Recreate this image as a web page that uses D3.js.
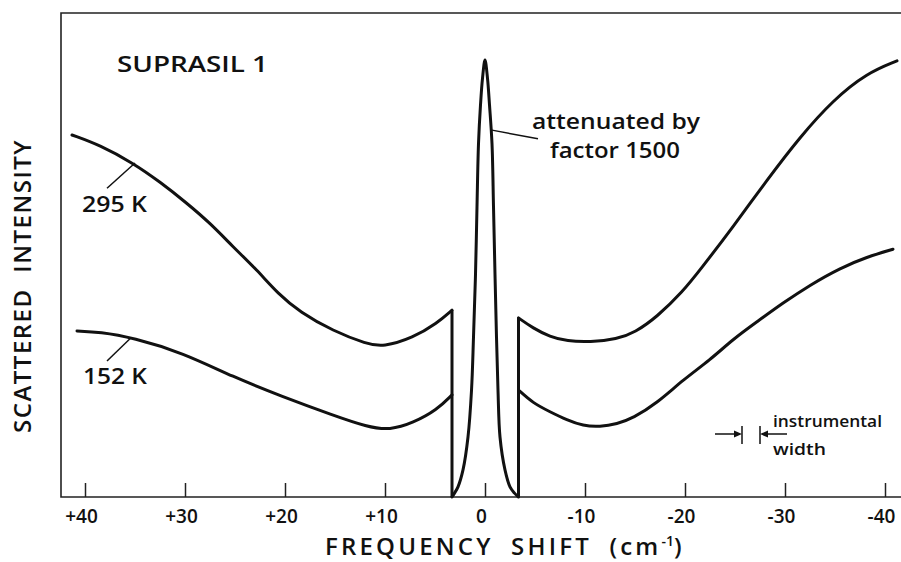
<!DOCTYPE html>
<html>
<head>
<meta charset="utf-8">
<script src="https://cdn.jsdelivr.net/npm/d3@7"></script>
<style>
  body { margin: 0; background: #fff; }
  svg { display: block; }
  text { font-family: "Open Sans", "DejaVu Sans", sans-serif; font-weight: 600; fill: #111; }
</style>
</head>
<body>
<div id="chart"></div>
<script>
// frequency shift (cm-1) ticks, reversed axis: Stokes side on the left
var shiftTicks = [40, 30, 20, 10, 0, -10, -20, -30, -40];
var tickLabels = ['+40', '+30', '+20', '+10', '0', '-10', '-20', '-30', '-40'];

// [shift, intensity] (arbitrary units)
var warmLeft = [[41.3, 74.8], [38.5, 72.7], [35.2, 69.0], [32.5, 65.1], [29.8, 60.7], [27.5, 56.6],
    [25.2, 51.7], [22.8, 46.9], [20.7, 42.0], [18.5, 38.2], [15.2, 34.3], [11.8, 31.6], [10.2, 31.0],
    [7.2, 32.9], [4.8, 35.9], [3.3, 38.6]];
var warmRight = [[-3.35, 37.0], [-4.8, 34.9], [-6.5, 33.1], [-8.2, 32.2], [-10.5, 32.0], [-13.2, 32.6],
    [-15.0, 34.0], [-17.2, 37.2], [-19.8, 42.5], [-21.5, 46.9], [-24.8, 55.8], [-28.2, 65.5],
    [-31.5, 74.4], [-34.8, 82.0], [-38.2, 87.6], [-41.2, 90.1]];
var coldLeft = [[40.8, 34.3], [38.5, 34.1], [35.2, 32.9], [30.2, 29.8], [25.2, 24.8], [20.2, 20.7],
    [15.2, 16.9], [11.8, 14.5], [9.5, 13.8], [7.2, 15.3], [4.8, 18.0], [3.3, 21.1]];
var coldRight = [[-3.35, 22.1], [-4.8, 19.4], [-6.5, 17.6], [-8.2, 15.9], [-9.8, 14.7], [-11.5, 14.5],
    [-13.2, 15.1], [-14.8, 16.3], [-17.2, 19.4], [-19.8, 24.2], [-22.5, 28.3], [-24.8, 32.6],
    [-27.2, 36.2], [-29.8, 40.1], [-32.5, 43.8], [-35.5, 47.3], [-38.2, 49.6], [-40.8, 51.2]];
// elastic line, attenuated by 1500
var peak = [[3.3, 0], [3.05, 0.8], [2.7, 2.1], [2.2, 5.6], [1.7, 12.4], [1.35, 22], [1.15, 33],
    [0.95, 46], [0.8, 60], [0.65, 73], [0.45, 81], [0.25, 86.5], [0, 90.3], [-0.25, 86.5],
    [-0.45, 81], [-0.7, 73], [-0.85, 60], [-1.0, 46], [-1.15, 33], [-1.3, 22], [-1.5, 12.4],
    [-2.0, 5.6], [-2.5, 2.1], [-2.95, 0.8], [-3.35, 0]];
// spectrometer cut-off either side of the line
var cutoffs = [[3.3, 38.6], [-3.35, 37.0]];
// instrumental width marker
var instrumentalWidth = [-25.7, -27.5];

// leader lines
var leaders = [
    [[37.8, 63.8], [35.0, 69.0]],
    [[37.8, 28.1], [35.4, 32.9]],
    [[-0.7, 75.8], [-5.3, 74.0]]
];

var width = 901, height = 562;

var x = d3.scaleLinear().domain([42.4, -41.6]).range([61, 901]);
var y = d3.scaleLinear().domain([0, 100]).range([497, 13]);

var svg = d3.select('#chart').append('svg')
    .attr('width', width)
    .attr('height', height);

// frame: left, top and bottom
var frame = svg.append('g').attr('stroke', '#222').attr('stroke-width', 1.6).attr('fill', 'none');
frame.append('path').attr('d', 'M' + x.range()[1] + ',' + y(100) + 'H' + x.range()[0] + 'V' + y(0) + 'H' + x.range()[1]);

// x axis with inward ticks
var xAxis = d3.axisBottom(x)
    .tickValues(shiftTicks)
    .tickSize(-14)
    .tickPadding(13)
    .tickFormat(function (d, i) { return tickLabels[i]; });

var axisG = svg.append('g')
    .attr('transform', 'translate(0,' + y(0) + ')')
    .call(xAxis);
axisG.select('.domain').remove();
axisG.selectAll('.tick line').attr('stroke', '#222').attr('stroke-width', 1.5);
axisG.selectAll('.tick text')
    .attr('dx', -4)
    .attr('font-size', 19)
    .attr('fill', '#111')
    .attr('font-family', '"Open Sans", sans-serif')
    .attr('font-weight', 600);

var smooth = d3.line()
    .x(function (d) { return x(d[0]); })
    .y(function (d) { return y(d[1]); })
    .curve(d3.curveBasis);

var sharp = d3.line()
    .x(function (d) { return x(d[0]); })
    .y(function (d) { return y(d[1]); })
    .curve(d3.curveCatmullRom.alpha(0.5));

var curves = svg.append('g')
    .attr('fill', 'none')
    .attr('stroke', '#111')
    .attr('stroke-width', 3)
    .attr('stroke-linejoin', 'round')
    .attr('stroke-linecap', 'round');

[warmLeft, warmRight, coldLeft, coldRight].forEach(function (s) {
    curves.append('path').attr('d', smooth(s));
});
curves.append('path').attr('d', sharp(peak));

cutoffs.forEach(function (c) {
    curves.append('line')
        .attr('x1', x(c[0])).attr('x2', x(c[0]))
        .attr('y1', y(0)).attr('y2', y(c[1]))
        .attr('stroke-linecap', 'butt');
});

var leaderG = svg.append('g').attr('stroke', '#111').attr('stroke-width', 1.5);
leaders.forEach(function (l) {
    leaderG.append('line')
        .attr('x1', x(l[0][0])).attr('y1', y(l[0][1]))
        .attr('x2', x(l[1][0])).attr('y2', y(l[1][1]));
});

// instrumental width marker
var iw = svg.append('g').attr('stroke', '#111').attr('stroke-width', 1.5).attr('fill', '#111');
var iy = 434;
var xa = x(instrumentalWidth[0]), xb = x(instrumentalWidth[1]);
iw.append('line').attr('x1', xa).attr('x2', xa).attr('y1', iy - 8).attr('y2', iy + 10);
iw.append('line').attr('x1', xb).attr('x2', xb).attr('y1', iy - 8).attr('y2', iy + 10);
iw.append('line').attr('x1', xa - 27).attr('x2', xa - 6).attr('y1', iy).attr('y2', iy);
iw.append('line').attr('x1', xb + 6).attr('x2', xb + 27).attr('y1', iy).attr('y2', iy);
iw.append('path').attr('stroke', 'none')
    .attr('d', 'M' + xa + ',' + iy + 'l-8,-3.5v7z');
iw.append('path').attr('stroke', 'none')
    .attr('d', 'M' + xb + ',' + iy + 'l8,-3.5v7z');

// text
function label(t, px, py, size, len, anchor) {
    var el = svg.append('text')
        .attr('x', px).attr('y', py)
        .attr('font-size', size)
        .attr('text-anchor', anchor || 'start')
        .text(t);
    if (len) el.attr('textLength', len).attr('lengthAdjust', 'spacingAndGlyphs');
    return el;
}

label('SUPRASIL 1', x(36.8), y(87.8), 22, 151);
label('295 K', x(40.3), y(58.9), 22, 65);
label('152 K', x(40.2), y(23.4), 22, 64);
label('attenuated by', x(-4.7), y(76.0), 21, 168);
label('factor 1500', x(-6.5), y(70.0), 21, 130);
label('instrumental', x(-28.8), y(14.5), 17, 109);
label('width', x(-28.8), y(8.7), 17, 53);

var xt = svg.append('text')
    .attr('x', 325).attr('y', 555)
    .attr('font-size', 24)
    .attr('font-weight', 500)
    .attr('letter-spacing', 3.2)
    .attr('word-spacing', 8);
xt.append('tspan').text('FREQUENCY SHIFT (cm');
xt.append('tspan').attr('dy', -9).attr('font-size', 14).attr('letter-spacing', 0).text('-1');
xt.append('tspan').attr('dy', 9).text(')');

svg.append('text')
    .attr('transform', 'translate(31,433) rotate(-90)')
    .attr('font-size', 24)
    .attr('font-weight', 500)
    .attr('letter-spacing', 1.5)
    .attr('word-spacing', 8)
    .text('SCATTERED INTENSITY');
</script>
</body>
</html>
